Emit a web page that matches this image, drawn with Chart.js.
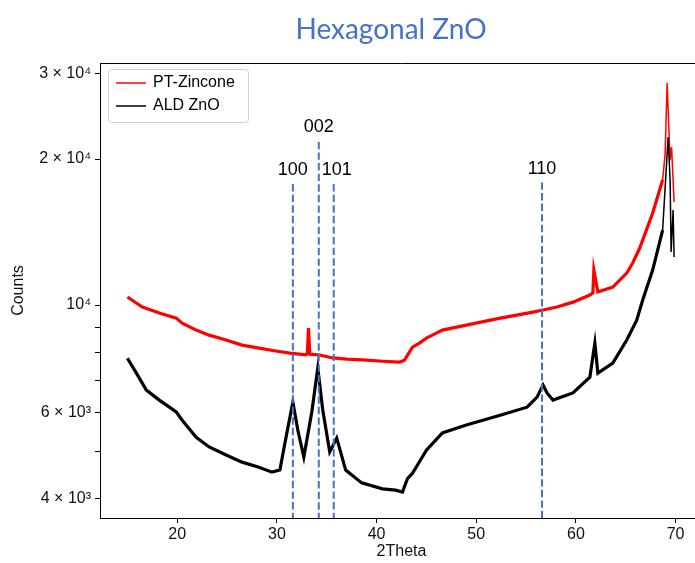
<!DOCTYPE html>
<html>
<head>
<meta charset="utf-8">
<script src="https://cdn.jsdelivr.net/npm/chart.js@4.4.1/dist/chart.umd.min.js"></script>
<style>
  html, body { margin: 0; padding: 0; overflow: hidden; background: #fff; }
  #wrap { position: absolute; left: 0; top: 0; width: 720px; height: 563px; }
</style>
</head>
<body>
<div id="wrap"><canvas id="xrdChart"></canvas></div>
<script>
// XRD scans, values
const zincTheta = [15.0, 16.5, 18.2, 19.9, 20.5, 21.9, 23.2, 24.9, 26.5, 28.2, 29.9, 31.3, 32.9, 33.05, 33.17, 33.3,
  34.3, 35.6, 37.0, 39.0, 40.6, 42.3, 42.8, 43.6, 44.3, 45.0, 45.6, 46.6, 49.0, 52.4, 55.7, 56.7, 58.1, 59.7,
  61.4, 61.7, 61.8, 62.2, 63.7, 65.1, 65.7, 66.4, 66.7, 67.7, 68.7, 68.95, 69.15, 69.45, 69.6, 69.85];
const zincCounts = [10390, 9910, 9630, 9400, 9180, 8880, 8670, 8470, 8270, 8150, 8040, 7960, 7900, 7950, 8970, 7920,
  7890, 7780, 7740, 7700, 7660, 7630, 7700, 8190, 8350, 8550, 8670, 8880, 9090, 9400, 9670, 9770, 9910, 10140,
  10490, 10600, 11810, 10640, 10890, 11640, 12210, 13110, 13610, 15480, 18100, 20500, 28690, 19900, 21170, 16310];

const aldTheta = [15.0, 15.9, 16.9, 18.2, 19.9, 20.5, 21.9, 23.2, 24.9, 26.5, 28.2, 29.5, 30.3, 30.8, 31.6, 32.1,
  32.7, 33.5, 34.1, 34.6, 35.3, 36.0, 36.9, 38.5, 40.6, 41.9, 42.6, 43.1, 43.6, 45.0, 46.6, 49.0, 52.4, 55.1,
  56.1, 56.7, 57.1, 57.7, 59.7, 61.4, 61.9, 62.2, 63.7, 65.1, 66.1, 66.7, 67.7, 68.7, 69.25, 69.45, 69.55, 69.75, 69.85];
const aldCounts = [7770, 7240, 6680, 6370, 6020, 5790, 5340, 5100, 4910, 4745, 4630, 4525, 4570, 5190, 6310, 5520,
  4860, 6020, 7420, 6080, 4980, 5320, 4570, 4300, 4180, 4155, 4116, 4390, 4500, 5020, 5450, 5660, 5930, 6160,
  6460, 6840, 6590, 6370, 6590, 7100, 8350, 7240, 7590, 8470, 9310, 10240, 11810, 14280, 22200, 18100, 12860, 15700, 12560];

const seriesNames = ['PT-Zincone', 'ALD ZnO'];

const xTickValues = [20, 30, 40, 50, 60, 70];
const yTickValues = [4000, 5000, 6000, 7000, 8000, 9000, 10000, 20000, 30000];
const yTickLabels = { 4000: '4 × 10³', 6000: '6 × 10³', 10000: '10⁴', 20000: '2 × 10⁴', 30000: '3 × 10⁴' };

// reflections of hexagonal ZnO
const peakNames = ['100', '002', '101', '110'];
const peakTheta = [31.6, 34.2, 35.7, 56.6];
const peakLineTop = [17760, 21700, 17760, 17900];
const peakLabelTheta = [31.6, 34.2, 36.0, 56.6];
const peakLabelCounts = [18970, 23280, 18970, 19070];

const toPoints = (xs, ys) => xs.map((x, i) => ({ x: x, y: ys[i] }));

const tickFont = { family: 'Liberation Sans', size: 16 };
const lineW = c => c.p0.parsed.x >= 68.5 ? 1.5 : 3.2;

const peakLines = {
  id: 'peakLines',
  afterDatasetsDraw(chart) {
    const { ctx, chartArea } = chart;
    const xs = chart.scales.x, ys = chart.scales.y;
    ctx.save();
    ctx.strokeStyle = '#4472c4';
    ctx.lineWidth = 2;
    ctx.setLineDash([7.4, 3.2]);
    peakTheta.forEach((t, i) => {
      const px = xs.getPixelForValue(t);
      ctx.beginPath();
      ctx.moveTo(px, ys.getPixelForValue(peakLineTop[i]));
      ctx.lineTo(px, chartArea.bottom);
      ctx.stroke();
    });
    ctx.setLineDash([]);
    ctx.fillStyle = '#000';
    ctx.font = '18px "Liberation Sans"';
    ctx.textAlign = 'center';
    ctx.textBaseline = 'middle';
    peakNames.forEach((name, i) => {
      ctx.fillText(name, xs.getPixelForValue(peakLabelTheta[i]), ys.getPixelForValue(peakLabelCounts[i]));
    });
    ctx.restore();
  }
};

const frameAndLegend = {
  id: 'frameAndLegend',
  afterDraw(chart) {
    const { ctx, chartArea } = chart;
    ctx.save();
    // top and right spines
    ctx.strokeStyle = '#000';
    ctx.lineWidth = 1;
    ctx.beginPath();
    ctx.moveTo(chartArea.left, chartArea.top + 0.5);
    ctx.lineTo(chartArea.right, chartArea.top + 0.5);
    ctx.lineTo(chartArea.right, chartArea.bottom);
    ctx.stroke();

    // title
    ctx.fillStyle = '#4472c4';
    ctx.font = '28px Lato';
    ctx.textAlign = 'center';
    ctx.textBaseline = 'alphabetic';
    ctx.fillText('Hexagonal ZnO', 391, 39);

    // legend box
    const bx = chartArea.left + 8, by = chartArea.top + 6, bw = 140, bh = 53;
    ctx.beginPath();
    ctx.roundRect(bx + 0.5, by + 0.5, bw, bh, 3);
    ctx.fillStyle = 'rgba(255,255,255,0.8)';
    ctx.fill();
    ctx.strokeStyle = '#d0d0d0';
    ctx.stroke();
    ctx.font = '16px "Liberation Sans"';
    ctx.textAlign = 'left';
    ctx.textBaseline = 'middle';
    chart.data.datasets.forEach((ds, i) => {
      const ly = by + 14 + i * 23;
      ctx.strokeStyle = ds.borderColor;
      ctx.lineWidth = 1.5;
      ctx.beginPath();
      ctx.moveTo(bx + 8, ly);
      ctx.lineTo(bx + 38, ly);
      ctx.stroke();
      ctx.fillStyle = '#000';
      ctx.fillText(ds.label, bx + 45, ly);
    });
    ctx.restore();
  }
};

new Chart(document.getElementById('xrdChart'), {
  type: 'line',
  data: {
    datasets: [{
      label: seriesNames[0],
      data: toPoints(zincTheta, zincCounts),
      borderColor: '#ff0000',
      borderWidth: 3.2,
      pointRadius: 0,
      tension: 0,
      order: 1,
      segment: { borderWidth: lineW },
    }, {
      label: seriesNames[1],
      data: toPoints(aldTheta, aldCounts),
      borderColor: '#000000',
      borderWidth: 3.2,
      pointRadius: 0,
      tension: 0,
      order: 0,
      segment: { borderWidth: lineW },
    }]
  },
  options: {
    responsive: true,
    maintainAspectRatio: false,
    animation: false,
    devicePixelRatio: 1,
    layout: { padding: { top: 63, right: 17, left: 0, bottom: 0 } },
    plugins: {
      legend: { display: false },
      tooltip: { enabled: false },
    },
    scales: {
      x: {
        type: 'linear',
        min: 12.25,
        max: 72.75,
        afterBuildTicks: s => { s.ticks = xTickValues.map(v => ({ value: v })); },
        afterFit: s => { s.height = 45; },
        grid: { drawOnChartArea: false, tickLength: 5, color: '#000' },
        border: { color: '#000', width: 1 },
        ticks: { font: tickFont, color: '#111', padding: 2, maxRotation: 0 },
        title: { display: true, text: '2Theta', font: { family: 'Liberation Sans', size: 16 }, color: '#111', padding: { top: 0, bottom: 2 } },
      },
      y: {
        type: 'logarithmic',
        min: 3640,
        max: 31550,
        afterBuildTicks: s => { s.ticks = yTickValues.map(v => ({ value: v })); },
        afterFit: s => { s.width = 100; },
        grid: { drawOnChartArea: false, tickLength: 5, color: '#000' },
        border: { color: '#000', width: 1 },
        ticks: {
          font: tickFont, color: '#111', padding: 4, autoSkip: false,
          callback: v => yTickLabels[v] || '',
        },
        title: { display: true, text: 'Counts', font: { family: 'Liberation Sans', size: 16 }, color: '#111', padding: { top: 9, bottom: 0 } },
      }
    }
  },
  plugins: [peakLines, frameAndLegend]
});
</script>
</body>
</html>
